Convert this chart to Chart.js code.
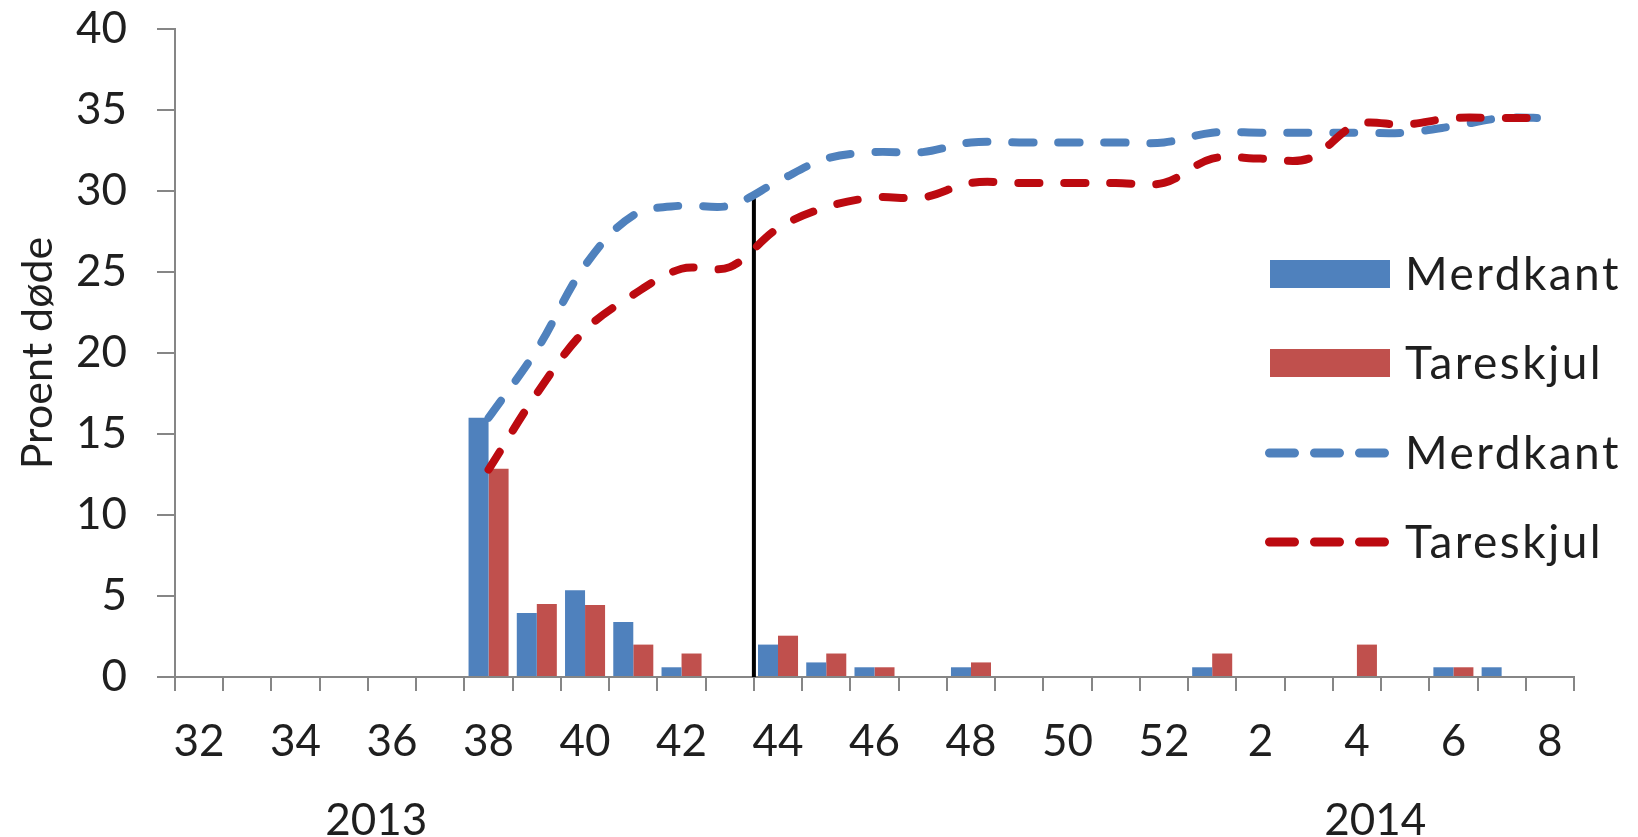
<!DOCTYPE html>
<html>
<head>
<meta charset="utf-8">
<script src="https://cdn.jsdelivr.net/npm/chart.js@4"></script>
<style>
html,body{margin:0;padding:0;background:#ffffff;}
canvas{display:block;}
</style>
</head>
<body>
<canvas id="c" width="1638" height="837"></canvas>
<script>
// ---------- DATA ----------
const weeks = ['32','33','34','35','36','37','38','39','40','41','42','43','44','45','46','47','48','49','50','51','52','1','2','3','4','5','6','7','8'];
// weekly mortality (%)
const merdkantWeekly  = [0,0,0,0,0,0,16.0,3.95,5.35,3.4,0.6,0,2.0,0.9,0.6,0,0.6,0,0,0,0,0.6,0,0,0,0,0.6,0.6,0];
const tareskjulWeekly = [0,0,0,0,0,0,12.85,4.5,4.45,2.0,1.45,0,2.55,1.45,0.6,0,0.9,0,0,0,0,1.45,0,0,2.0,0,0.6,0,0];
// cumulative mortality (%)
const merdkantCumulative  = [null,null,null,null,null,null,16.0,20.2,25.4,28.5,29.1,29.1,30.6,32.0,32.4,32.4,33.0,33.0,33.0,33.0,33.0,33.6,33.6,33.6,33.6,33.6,34.0,34.5,34.5];
const tareskjulCumulative = [null,null,null,null,null,null,12.8,17.5,21.4,23.6,25.2,25.3,27.7,29.0,29.6,29.6,30.5,30.5,30.5,30.5,30.5,32.0,32.0,32.0,34.1,34.1,34.5,34.5,34.5];
const seriesNames = ['Merdkant','Tareskjul'];
const yearLabels = ['2013','2014'];
const yTickStep = [5];
const yRange = [0, 40];
// vertical marker: drawn after week 43, up to this value
const markerWeek = ['43'];
const markerValue = [29.8];

// ---------- STYLE ----------
const FONT = 'Lato';
const TXT = '#1f1f1f';
const AXIS = '#868686';
const BLUE = '#4F81BD';
const RED_BAR = '#C0504D';
const RED_LINE = '#BC0A10';

Chart.defaults.font.family = FONT;
Chart.defaults.color = TXT;

const overlay = {
  id: 'overlay',
  beforeDatasetsDraw(chart) {
    const {ctx, scales: {x, y}} = chart;
    const i = weeks.indexOf(markerWeek[0]);
    const px = (x.getPixelForValue(i) + x.getPixelForValue(i + 1)) / 2;
    ctx.save();
    ctx.strokeStyle = '#000';
    ctx.lineWidth = 4;
    ctx.beginPath();
    ctx.moveTo(px, y.getPixelForValue(0));
    ctx.lineTo(px, y.getPixelForValue(markerValue[0]));
    ctx.stroke();
    ctx.restore();
  },
  afterDraw(chart) {
    const {ctx, scales: {x}} = chart;
    ctx.save();
    // year labels under the axis
    ctx.fillStyle = TXT;
    ctx.font = '44px ' + FONT;
    ctx.textAlign = 'center';
    ctx.textBaseline = 'middle';
    const yearPos = [3.67, 24.38];
    yearLabels.forEach((t, k) => {
      ctx.fillText(t, x.getPixelForValue(yearPos[k]), x.bottom - 16);
    });
    // legend
    const ds = chart.data.datasets;
    const items = [ds[0], ds[1], ds[2], ds[3]];
    const rowsY = [274, 363, 453, 542];
    const sx0 = 1270, sx1 = 1390, tx = 1405;
    ctx.textAlign = 'left';
    ctx.font = '46px ' + FONT;
    if ('letterSpacing' in ctx) ctx.letterSpacing = '2.5px';
    items.forEach((d, k) => {
      const cy = rowsY[k];
      if (d.type === 'line') {
        ctx.strokeStyle = d.borderColor;
        ctx.lineWidth = 9;
        ctx.lineCap = 'round';
        ctx.setLineDash([25, 20]);
        ctx.beginPath();
        ctx.moveTo(sx0 - 0.5, cy);
        ctx.lineTo(sx1 - 5.5, cy);
        ctx.stroke();
        ctx.setLineDash([]);
      } else {
        ctx.fillStyle = d.backgroundColor;
        ctx.fillRect(sx0, cy - 14, sx1 - sx0, 28);
      }
      ctx.fillStyle = TXT;
      ctx.fillText(d.label, tx, cy + 1);
    });
    ctx.restore();
  }
};

new Chart(document.getElementById('c'), {
  type: 'bar',
  data: {
    labels: weeks,
    datasets: [
      {label: seriesNames[0], data: merdkantWeekly, backgroundColor: BLUE, order: 2},
      {label: seriesNames[1], data: tareskjulWeekly, backgroundColor: RED_BAR, order: 2},
      {type: 'line', label: seriesNames[0], data: merdkantCumulative, borderColor: BLUE, backgroundColor: BLUE,
       borderWidth: 8, borderDash: [21, 25], borderCapStyle: 'round', tension: 0.35, pointRadius: 0, fill: false, order: 1},
      {type: 'line', label: seriesNames[1], data: tareskjulCumulative, borderColor: RED_LINE, backgroundColor: RED_LINE,
       borderWidth: 8, borderDash: [21, 25], borderCapStyle: 'round', tension: 0.35, pointRadius: 0, fill: false, order: 0}
    ]
  },
  options: {
    responsive: false,
    animation: false,
    devicePixelRatio: 1,
    layout: {padding: {top: 29, right: 64, left: 0, bottom: 0}},
    plugins: {legend: {display: false}, tooltip: {enabled: false}},
    datasets: {bar: {categoryPercentage: 0.83, barPercentage: 1.0}},
    scales: {
      x: {
        grid: {offset: true, drawOnChartArea: false, drawTicks: true, tickLength: 14, color: AXIS, lineWidth: 2},
        border: {display: true, color: AXIS, width: 2},
        ticks: {autoSkip: false, maxRotation: 0, minRotation: 0, padding: 24, font: {size: 44}, color: TXT,
                callback: (v, i) => (i % 2 === 0 ? weeks[i] : '')},
        afterFit: s => { s.height = 160; s.paddingLeft = 0; s.paddingRight = 0; }
      },
      y: {
        min: yRange[0], max: yRange[1],
        grid: {drawOnChartArea: false, drawTicks: true, tickLength: 18, color: AXIS, lineWidth: 2},
        border: {display: true, color: AXIS, width: 2},
        ticks: {stepSize: yTickStep[0], padding: 30, font: {size: 44}, color: TXT},
        title: {display: true, text: 'Proent døde', font: {size: 43}, color: TXT, padding: {top: 12, bottom: 0}},
        afterFit: s => { s.width = 175; s.paddingTop = 0; s.paddingBottom = 0; }
      }
    }
  },
  plugins: [overlay]
});
</script>
</body>
</html>
